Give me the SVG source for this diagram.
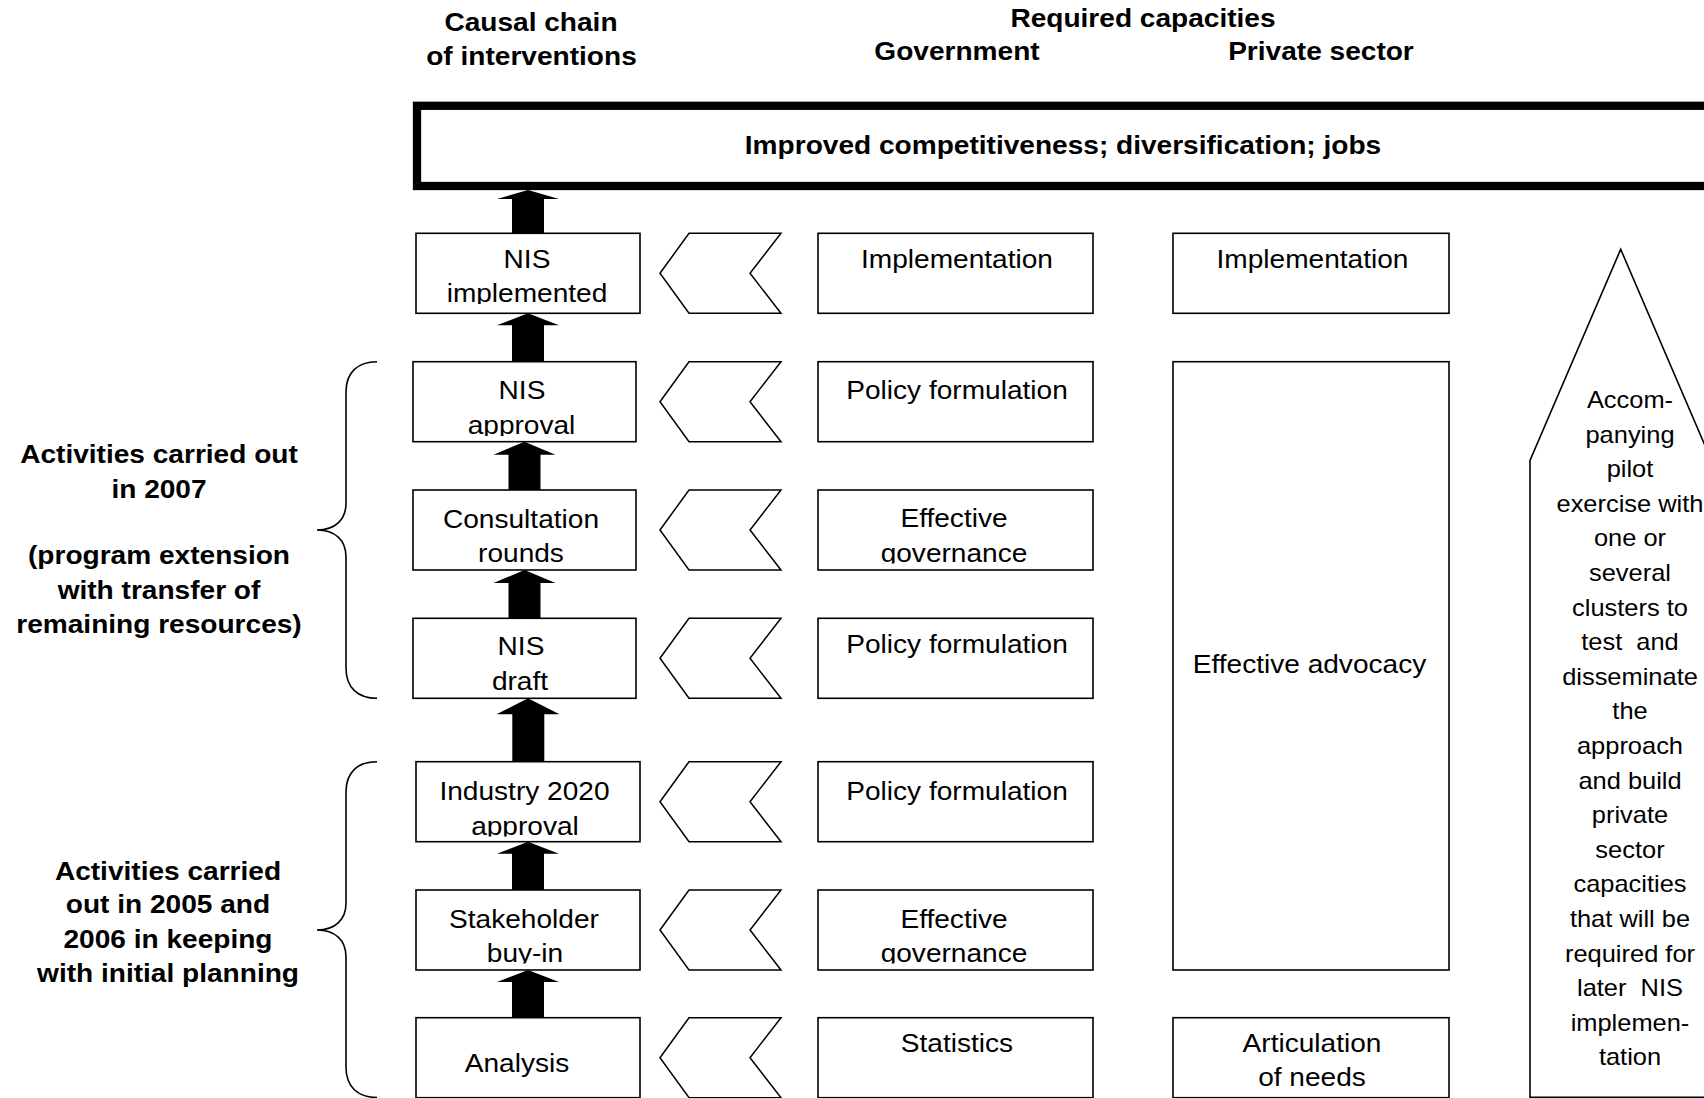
<svg xmlns="http://www.w3.org/2000/svg" width="1704" height="1098" viewBox="0 0 1704 1098">
<style>
.bg{fill:#fff}
.box{fill:#fff;stroke:#000;stroke-width:1.6}
.goal{fill:#fff;stroke:#000;stroke-width:8.3}
.chev{fill:#fff;stroke:#000;stroke-width:1.5}
.arr{fill:#000;stroke:none}
.brace{fill:none;stroke:#000;stroke-width:1.6}
.t{font-family:"Liberation Sans",Arial,Helvetica,sans-serif;font-size:26px;text-anchor:middle;fill:#000;transform-box:fill-box;transform-origin:center;transform:scaleX(1.08)}
.b{font-weight:bold}
.p{font-size:24px;transform:scaleX(1.06)}
.pre{white-space:pre}
</style>
<defs>
<clipPath id="c1"><rect x="400" y="280" width="260" height="24"/></clipPath>
<clipPath id="c2"><rect x="400" y="410" width="260" height="26"/></clipPath>
<clipPath id="c3"><rect x="800" y="540" width="310" height="23.5"/></clipPath>
<clipPath id="c4"><rect x="400" y="810" width="260" height="26.5"/></clipPath>
<clipPath id="c5"><rect x="400" y="940" width="710" height="23.5"/></clipPath>
</defs>
<rect class="bg" x="0" y="0" width="1704" height="1098"/>

<g id="headers">
<text class="t b" x="531" y="31.5">Causal chain</text>
<text class="t b" x="531.5" y="65.5">of interventions</text>
<text class="t b" x="1143" y="27.5">Required capacities</text>
<text class="t b" x="957" y="60">Government</text>
<text class="t b" x="1321" y="60">Private sector</text>
</g>

<g id="goal">
<rect class="goal" x="417" y="105.8" width="1400" height="80.2"/>
<text class="t b" x="1063" y="154.5">Improved competitiveness; diversification; jobs</text>
</g>

<g id="label-2007">
<path class="brace" d="M377,361.7 C358,361.7 346,372 346,392 L346,503 C346,520 335,530 317,530 C335,530 346,540 346,557 L346,668 C346,688 358,698.3 377,698.3"/>
<text class="t b" x="159" y="463.3">Activities carried out</text>
<text class="t b" x="159" y="498.3">in 2007</text>
<text class="t b" x="159" y="564">(program extension</text>
<text class="t b" x="159" y="599">with transfer of</text>
<text class="t b" x="159" y="633.5">remaining resources)</text>
</g>

<g id="label-2005-2006">
<path class="brace" d="M377,761.7 C358,761.7 346,772 346,792 L346,903 C346,920 335,930 317,930 C335,930 346,940 346,957 L346,1067 C346,1087 358,1097.5 377,1097.5"/>
<text class="t b" x="168" y="880">Activities carried</text>
<text class="t b" x="168" y="913.5">out in 2005 and</text>
<text class="t b" x="168" y="948">2006 in keeping</text>
<text class="t b" x="168" y="982">with initial planning</text>
</g>

<g id="nis-implemented">
<rect class="box" x="416" y="233.3" width="224" height="80"/>
<text class="t" x="527" y="268">NIS</text>
<g clip-path="url(#c1)"><text class="t" x="527" y="302.5">implemented</text></g>
</g>
<g id="nis-approval">
<rect class="box" x="413" y="361.7" width="223" height="80"/>
<text class="t" x="522" y="399.3">NIS</text>
<g clip-path="url(#c2)"><text class="t" x="521.5" y="434.3">approval</text></g>
</g>
<g id="consultation-rounds">
<rect class="box" x="413" y="490" width="223" height="80"/>
<text class="t" x="521" y="528">Consultation</text>
<text class="t" x="521" y="562">rounds</text>
</g>
<g id="nis-draft">
<rect class="box" x="413" y="618.3" width="223" height="80"/>
<text class="t" x="521" y="655">NIS</text>
<text class="t" x="520" y="690">draft</text>
</g>
<g id="industry-2020-approval">
<rect class="box" x="416" y="761.7" width="224" height="80"/>
<text class="t" x="524.5" y="800.5">Industry 2020</text>
<g clip-path="url(#c4)"><text class="t" x="525" y="835">approval</text></g>
</g>
<g id="stakeholder-buy-in">
<rect class="box" x="416" y="890" width="224" height="80"/>
<text class="t" x="524" y="928.3">Stakeholder</text>
<g clip-path="url(#c5)"><text class="t" x="525" y="962">buy-in</text></g>
</g>
<g id="analysis">
<rect class="box" x="416" y="1017.7" width="224" height="80"/>
<text class="t" x="517" y="1071.7">Analysis</text>
</g>

<g id="gov-implementation">
<rect class="box" x="818" y="233.3" width="275" height="80"/>
<text class="t" x="957" y="268">Implementation</text>
</g>
<g id="gov-policy-1">
<rect class="box" x="818" y="361.7" width="275" height="80"/>
<text class="t" x="957" y="399.3">Policy formulation</text>
</g>
<g id="gov-governance-1">
<rect class="box" x="818" y="490" width="275" height="80"/>
<text class="t" x="954" y="527">Effective</text>
<g clip-path="url(#c3)"><text class="t" x="954" y="562">governance</text></g>
</g>
<g id="gov-policy-2">
<rect class="box" x="818" y="618.3" width="275" height="80"/>
<text class="t" x="957" y="653.5">Policy formulation</text>
</g>
<g id="gov-policy-3">
<rect class="box" x="818" y="761.7" width="275" height="80"/>
<text class="t" x="957" y="800">Policy formulation</text>
</g>
<g id="gov-governance-2">
<rect class="box" x="818" y="890" width="275" height="80"/>
<text class="t" x="954" y="928.3">Effective</text>
<g clip-path="url(#c5)"><text class="t" x="954" y="962">governance</text></g>
</g>
<g id="gov-statistics">
<rect class="box" x="818" y="1017.7" width="275" height="80"/>
<text class="t" x="957" y="1051.7">Statistics</text>
</g>

<g id="ps-implementation">
<rect class="box" x="1173" y="233.3" width="276" height="80"/>
<text class="t" x="1312.5" y="268">Implementation</text>
</g>
<g id="ps-advocacy">
<rect class="box" x="1173" y="361.7" width="276" height="608.3"/>
<text class="t" x="1309.5" y="673">Effective advocacy</text>
</g>
<g id="ps-articulation">
<rect class="box" x="1173" y="1017.7" width="276" height="80"/>
<text class="t" x="1312" y="1051.7">Articulation</text>
<text class="t" x="1312" y="1086.5">of needs</text>
</g>

<g id="pilot-exercise">
<polygon class="box" points="1530,1097.3 1530,460.5 1620.7,249.3 1711.4,460.5 1711.4,1097.3"/>
<text class="t p" x="1630" y="408">Accom-</text>
<text class="t p" x="1630" y="442.6">panying</text>
<text class="t p" x="1630" y="477.2">pilot</text>
<text class="t p" x="1630" y="511.8">exercise with</text>
<text class="t p" x="1630" y="546.4">one or</text>
<text class="t p" x="1630" y="581">several</text>
<text class="t p" x="1630" y="615.6">clusters to</text>
<text class="t p pre" xml:space="preserve" x="1630" y="650.2">test  and</text>
<text class="t p" x="1630" y="684.8">disseminate</text>
<text class="t p" x="1630" y="719.4">the</text>
<text class="t p" x="1630" y="754">approach</text>
<text class="t p" x="1630" y="788.6">and build</text>
<text class="t p" x="1630" y="823.2">private</text>
<text class="t p" x="1630" y="857.8">sector</text>
<text class="t p" x="1630" y="892.4">capacities</text>
<text class="t p" x="1630" y="927">that will be</text>
<text class="t p" x="1630" y="961.6">required for</text>
<text class="t p pre" xml:space="preserve" x="1630" y="996.2">later  NIS</text>
<text class="t p" x="1630" y="1030.8">implemen-</text>
<text class="t p" x="1630" y="1065.4">tation</text>
</g>

<g id="connectors">
<g id="chain-arrows">
<polygon class="arr" points="528,190 559,199 544,199 544,233.3 512,233.3 512,199 497,199"/>
<polygon class="arr" points="528,313.3 559,325.3 544,325.3 544,361.7 512,361.7 512,325.3 497,325.3"/>
<polygon class="arr" points="524.5,441.7 555.5,454.7 540.5,454.7 540.5,490 508.5,490 508.5,454.7 493.5,454.7"/>
<polygon class="arr" points="524.5,570 555.5,583 540.5,583 540.5,618.3 508.5,618.3 508.5,583 493.5,583"/>
<polygon class="arr" points="528,698.3 559.5,714.3 544.3,714.3 544.3,761.7 512.3,761.7 512.3,714.3 496.5,714.3"/>
<polygon class="arr" points="528,841.7 559,853.7 544,853.7 544,890 512,890 512,853.7 497,853.7"/>
<polygon class="arr" points="528,970 559,982 544,982 544,1017.7 512,1017.7 512,982 497,982"/>
</g>
<g id="capacity-chevrons">
<polygon class="chev" points="660,273.3 689,233.3 781,233.3 750,273.3 781,313.3 689,313.3"/>
<polygon class="chev" points="660,401.7 689,361.7 781,361.7 750,401.7 781,441.7 689,441.7"/>
<polygon class="chev" points="660,530 689,490 781,490 750,530 781,570 689,570"/>
<polygon class="chev" points="660,658.3 689,618.3 781,618.3 750,658.3 781,698.3 689,698.3"/>
<polygon class="chev" points="660,801.7 689,761.7 781,761.7 750,801.7 781,841.7 689,841.7"/>
<polygon class="chev" points="660,930 689,890 781,890 750,930 781,970 689,970"/>
<polygon class="chev" points="660,1057.7 689,1017.7 781,1017.7 750,1057.7 781,1097.7 689,1097.7"/>
</g>
</g>
</svg>
